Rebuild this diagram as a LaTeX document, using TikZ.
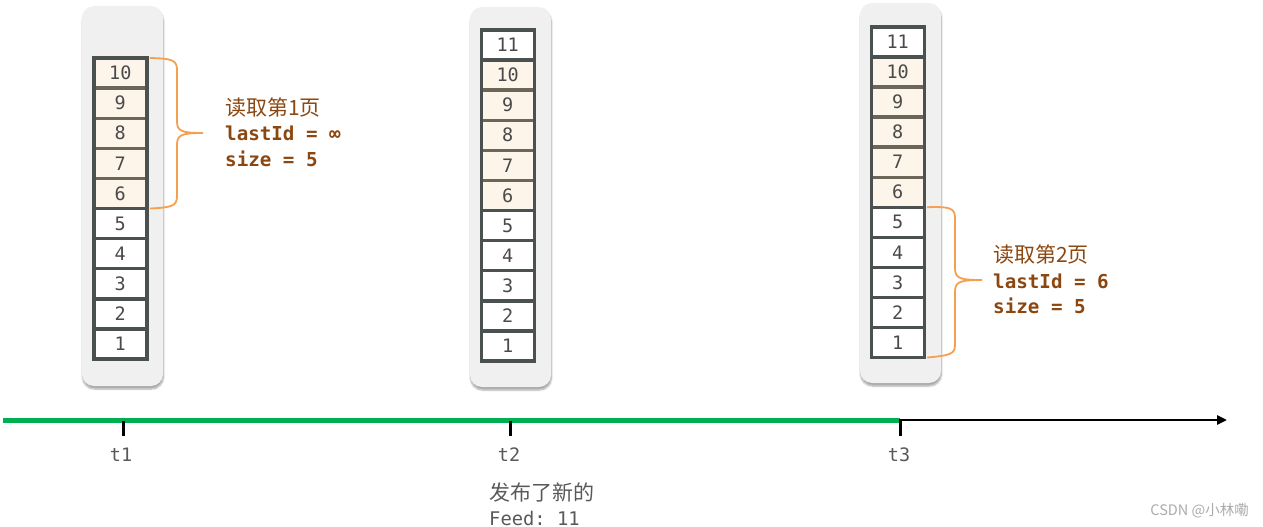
\documentclass[tikz,border=0pt]{standalone}
\usepackage{fontspec}
\setmonofont{DejaVu Sans Mono}
\newfontfamily\cjk{Noto Sans CJK SC}
\usetikzlibrary{shadows.blur,arrows.meta,calc}
\definecolor{cellborder}{HTML}{4B5050}
\definecolor{hiborder}{HTML}{6B6658}
\definecolor{hifill}{HTML}{FDF4EA}
\definecolor{numcol}{HTML}{4A4A4A}
\definecolor{labelbrown}{RGB}{140,70,15}
\definecolor{bracecol}{HTML}{F5A050}
\definecolor{axisgreen}{HTML}{00B050}
\definecolor{panelgray}{HTML}{F0F0F0}
\definecolor{notegray}{HTML}{595959}
\definecolor{markgray}{HTML}{ABABAB}
\tikzset{
  panel/.style={fill=panelgray, rounded corners=12pt,
    blur shadow={shadow xshift=0.5pt, shadow yshift=-3pt, shadow blur steps=6, shadow opacity=35}},
  cell/.style={draw=cellborder, line width=3.4pt, fill=white, outer sep=0pt,
    minimum width=53pt, minimum height=30.1pt, inner sep=0pt,
    font=\ttfamily\fontsize{18.5}{18.5}\selectfont, text=numcol},
  hicell/.style={cell, fill=hifill, draw=hiborder},
  outline/.style={draw=cellborder, line width=3.4pt},
  bracestyle/.style={draw=bracecol, line width=1.8pt},
  cjklabel/.style={anchor=west, inner sep=0pt, text=labelbrown, font=\cjk\fontsize{21}{21}\selectfont},
  codelabel/.style={anchor=west, inner sep=0pt, text=labelbrown, font=\ttfamily\bfseries\fontsize{19.2}{19.2}\selectfont},
  tlabel/.style={inner sep=0pt, text=notegray, font=\ttfamily\fontsize{18.5}{18.5}\selectfont},
  tick/.style={draw=black, line width=3pt},
}
\begin{document}
\begin{tikzpicture}[x=1pt,y=-1pt]
\useasboundingbox (0,0) rectangle (1263,527);
% panels
\fill[panel] (82,6) rectangle (163,386);
\fill[panel] (470,7) rectangle (551,387);
\fill[panel] (860,3) rectangle (941,383);
% column 1 (t1)
\foreach \n in {6,...,10}
  \node[hicell] (c1-\n) at (120.3,{343.95-(\n-1)*30.1}) {\n};
\foreach \n in {1,...,5}
  \node[cell] (c1-\n) at (120.3,{343.95-(\n-1)*30.1}) {\n};
\draw[outline] (c1-10.north west) rectangle (c1-6.south east);
% column 2 (t2)
\foreach \n in {6,...,10}
  \node[hicell] (c2-\n) at (507.7,{345.95-(\n-1)*30.1}) {\n};
\foreach \n in {1,...,5,11}
  \node[cell] (c2-\n) at (507.7,{345.95-(\n-1)*30.1}) {\n};
\draw[outline] (c2-10.north west) -- (c2-6.south west);
\draw[outline] (c2-10.north east) -- (c2-6.south east);
% column 3 (t3)
\foreach \n in {6,...,10}
  \node[hicell] (c3-\n) at (897.7,{342.45-(\n-1)*30.05}) {\n};
\foreach \n in {1,...,5,11}
  \node[cell] (c3-\n) at (897.7,{342.45-(\n-1)*30.05}) {\n};
\draw[outline] (c3-10.north west) -- (c3-6.south west);
\draw[outline] (c3-10.north east) -- (c3-6.south east);
% brace 1
\coordinate (b1top) at ($(c1-10.north east)+(3,0)$);
\coordinate (b1bot) at ($(c1-6.south east)+(3,0)$);
\coordinate (b1tip) at (203,133);
\draw[bracestyle] (b1top) .. controls (172,58.5) and (177,60) .. (177,70)
  -- (177,121) .. controls (177,131) and (181,133) .. (b1tip)
  .. controls (181,133) and (177,135) .. (177,145)
  -- (177,196) .. controls (177,206) and (172,207.5) .. (b1bot);
% brace 2
\coordinate (b2top) at ($(c3-5.north east)+(3,0)$);
\coordinate (b2bot) at ($(c3-1.south east)+(3,0)$);
\coordinate (b2tip) at (982,280);
\draw[bracestyle] (b2top) .. controls (950,206.5) and (955,208) .. (955,218)
  -- (955,268) .. controls (955,278) and (959,280) .. (b2tip)
  .. controls (959,280) and (955,282) .. (955,292)
  -- (955,345) .. controls (955,354) and (950,355.5) .. (b2bot);
% labels
\node[cjklabel] (l1a) at (225,108) {读取第1页};
\node[codelabel] (l1b) at (225,133) {lastId = ∞};
\node[codelabel] (l1c) at (225,159) {size = 5};
\node[cjklabel] (l2a) at (993,255) {读取第2页};
\node[codelabel] (l2b) at (993,281) {lastId = 6};
\node[codelabel] (l2c) at (993,306) {size = 5};
% axis
\coordinate (axstart) at (3,420);
\coordinate (k1) at (123,420);
\coordinate (k2) at (510,420);
\coordinate (k3) at (900,420);
\coordinate (axend) at (1227,420);
\draw[draw=axisgreen, line width=5pt] (axstart) -- (k3);
\draw[draw=black, line width=2.5pt, -{Triangle[length=10pt,width=9pt]}] ($(k3)+(-1,0)$) -- (axend);
\draw[tick] ($(k1)+(0,1)$) -- ++(0,15);
\draw[tick] ($(k2)+(0,1)$) -- ++(0,15);
\draw[tick] ($(k3)+(0,-1)$) -- ++(0,17);
\node[tlabel] (t1) at (121,455) {t1};
\node[tlabel] (t2) at (509,455) {t2};
\node[tlabel] (t3) at (899,455) {t3};
% note
\node[anchor=west, inner sep=0pt, text=notegray, font=\cjk\fontsize{21}{21}\selectfont] (n1) at (489,493) {发布了新的};
\node[anchor=west, inner sep=0pt, text=notegray, font=\ttfamily\fontsize{18.8}{18.8}\selectfont] (n2) at (489,518) {Feed: 11};
% watermark
\node[anchor=east, inner sep=0pt, text=markgray, font=\cjk\fontsize{14.5}{14.5}\selectfont] (wm) at (1249,511) {CSDN @小林嘞};
\end{tikzpicture}
\end{document}
